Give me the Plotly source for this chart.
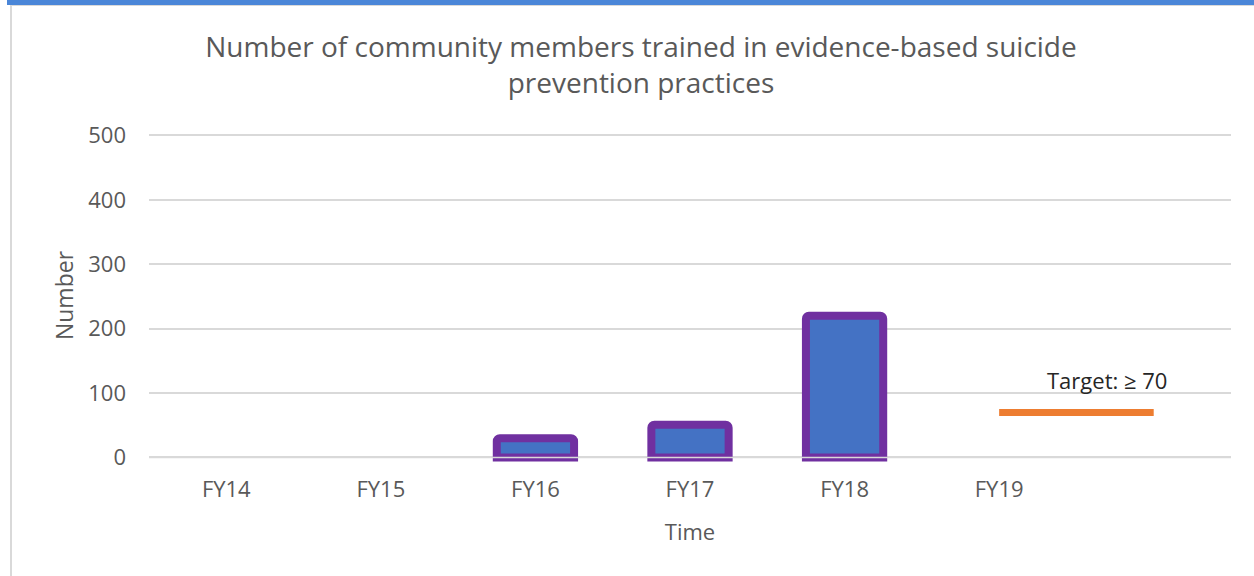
import plotly.graph_objects as go

categories = ["FY14", "FY15", "FY16", "FY17", "FY18", "FY19", ""]
trained = [None, None, 30, 51, 220, None, None]
target = [None, None, None, None, None, 70, 70]
target_label = "Target: ≥ 70"
y_ticks = [0, 100, 200, 300, 400, 500]

W, H = 1254, 576
ML, MR, MT, MB = 149, 23, 129, 114
pw = W - ML - MR
ph = H - MT - MB

def px_x(p):
    return (p - ML) / pw

def px_y(p):
    return (H - MB - p) / ph

xs = list(range(len(categories)))
FONT = "Open Sans"
GRAY = "#595959"

fig = go.Figure()
fig.add_trace(go.Bar(
    x=xs, y=trained, width=0.5,
    marker=dict(color="#4472C4", line=dict(color="#7030A0", width=8), cornerradius=3),
    cliponaxis=False, showlegend=False, hoverinfo="skip",
))
fig.add_trace(go.Scatter(
    x=xs, y=target, mode="lines",
    line=dict(color="#ED7D31", width=7),
    showlegend=False, hoverinfo="skip", connectgaps=False,
))

fig.add_annotation(
    x=5.7, y=121, xref="x", yref="y", text=target_label, showarrow=False,
    font=dict(family=FONT, size=22, color="#262626"), yanchor="middle", xanchor="center",
)

# horizontal axis line drawn over the bars
fig.add_shape(type="line", xref="paper", yref="y", x0=0, x1=1, y0=0, y1=0,
              line=dict(color="#D9D9D9", width=1.5), layer="above")

# frame: top blue bar and left gray line
fig.add_shape(type="rect", xref="paper", yref="paper",
              x0=px_x(7), x1=px_x(W), y0=px_y(5), y1=px_y(0),
              fillcolor="#4A86D8", line=dict(width=0), layer="above")
fig.add_shape(type="line", xref="paper", yref="paper",
              x0=px_x(11), x1=px_x(11), y0=px_y(H), y1=px_y(5),
              line=dict(color="#D9D9D9", width=2))
fig.add_shape(type="line", xref="paper", yref="paper",
              x0=px_x(11), x1=px_x(W), y0=px_y(5.5), y1=px_y(5.5),
              line=dict(color="#D9D9D9", width=1))

fig.update_layout(
    width=W, height=H,
    margin=dict(l=ML, r=MR, t=MT, b=MB, pad=0),
    paper_bgcolor="white", plot_bgcolor="white",
    font=dict(family=FONT, color=GRAY),
    title=dict(
        text="Number of community members trained in evidence-based suicide<br>prevention practices",
        xref="container", x=641 / W, xanchor="center", y=1 - 57 / H, yanchor="middle",
        font=dict(family=FONT, size=28, color=GRAY),
    ),
    xaxis=dict(
        range=[-0.5, len(categories) - 0.5],
        tickvals=xs, ticktext=categories,
        showgrid=False, zeroline=False, showline=False, ticks="",
        tickfont=dict(family=FONT, size=22, color=GRAY),
        ticklabelstandoff=12,
        title=dict(text="Time", font=dict(family=FONT, size=22, color=GRAY), standoff=22),
    ),
    yaxis=dict(
        range=[-7, 510], tickvals=y_ticks,
        showgrid=True, gridcolor="#D9D9D9", gridwidth=1.5,
        zeroline=False, showline=False, ticks="",
        tickfont=dict(family=FONT, size=22, color=GRAY),
        ticklabelstandoff=22,
        title=dict(text="Number", font=dict(family=FONT, size=23, color=GRAY), standoff=8),
    ),
    bargap=0.5,
)

fig.write_html(
    "out.html",
    config={"displayModeBar": False},
    post_script="document.body.style.margin='0';document.body.style.padding='0';",
)
